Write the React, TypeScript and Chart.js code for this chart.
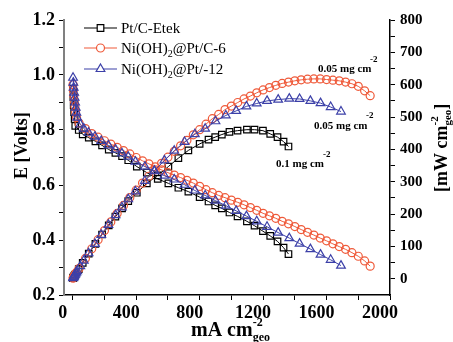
import React, { useEffect, useRef } from 'react';
import { Chart, registerables } from 'chart.js';
Chart.register(...registerables);

const SERIF = '"Liberation Serif", "Times New Roman", serif';
const BLACK = '#000000';
const RED = '#ef5a3a';
const BLUE = '#3c40a8';

// ---- Data (current in mA cm-2, voltage in V, power in mW cm-2) ----
const blackCurrent = [2, 4, 6, 9, 12, 16, 38, 63, 101, 143, 185, 227, 269, 311, 350, 404, 467, 536, 603, 666, 729, 800, 856, 898, 940, 988, 1039, 1098, 1146, 1199, 1245, 1291, 1329, 1360];
const blackVoltage = [0.95, 0.92, 0.89, 0.865, 0.84, 0.815, 0.80, 0.784, 0.772, 0.759, 0.744, 0.729, 0.717, 0.705, 0.690, 0.667, 0.645, 0.622, 0.606, 0.590, 0.576, 0.556, 0.540, 0.526, 0.515, 0.500, 0.486, 0.468, 0.452, 0.432, 0.415, 0.395, 0.372, 0.349];
const blackPower = [2, 4, 5, 8, 10, 13, 30, 49, 78, 108, 137, 165, 192, 218, 240, 266, 295, 320, 347, 373, 397, 417, 430, 438, 446, 454, 458, 461, 461, 458, 448, 438, 424, 409];

const redCurrent = [2, 4, 7, 10, 14, 18, 24, 40, 80, 120, 160, 200, 240, 280, 320, 360, 400, 440, 480, 520, 560, 600, 640, 680, 720, 760, 800, 840, 880, 920, 960, 1000, 1040, 1080, 1120, 1160, 1200, 1240, 1280, 1320, 1360, 1400, 1440, 1480, 1520, 1560, 1600, 1640, 1680, 1720, 1760, 1800, 1840, 1875];
const redVoltage = [0.965, 0.945, 0.925, 0.905, 0.885, 0.865, 0.845, 0.825, 0.805, 0.787, 0.774, 0.761, 0.749, 0.737, 0.725, 0.713, 0.700, 0.688, 0.677, 0.666, 0.655, 0.645, 0.636, 0.627, 0.617, 0.607, 0.595, 0.583, 0.572, 0.562, 0.554, 0.545, 0.537, 0.528, 0.518, 0.508, 0.497, 0.488, 0.479, 0.468, 0.459, 0.449, 0.438, 0.428, 0.418, 0.407, 0.397, 0.386, 0.376, 0.366, 0.354, 0.341, 0.324, 0.305];
const redPower = [2, 4, 7, 9, 12, 16, 20, 32, 63, 93, 121, 149, 176, 202, 227, 251, 274, 296, 317, 337, 357, 376, 394, 411, 428, 445, 461, 478, 495, 508, 523, 534, 545, 556, 565, 575, 584, 591, 598, 604, 608, 612, 615, 617, 618, 618, 616, 614, 612, 608, 603, 595, 581, 566];

const blueCurrent = [2, 4, 6, 9, 12, 15, 19, 23, 28, 48, 70, 100, 140, 180, 225, 270, 310, 350, 395, 455, 515, 578, 640, 705, 770, 835, 900, 965, 1030, 1095, 1160, 1225, 1295, 1365, 1430, 1498, 1562, 1626, 1691];
const blueVoltage = [0.99, 0.972, 0.954, 0.936, 0.918, 0.900, 0.881, 0.863, 0.845, 0.820, 0.805, 0.790, 0.776, 0.760, 0.744, 0.729, 0.715, 0.703, 0.685, 0.667, 0.650, 0.634, 0.620, 0.601, 0.580, 0.562, 0.543, 0.525, 0.506, 0.487, 0.468, 0.448, 0.427, 0.407, 0.387, 0.367, 0.347, 0.328, 0.307];
const bluePower = [2, 4, 6, 8, 11, 13, 17, 20, 24, 39, 56, 79, 108, 136, 167, 197, 221, 246, 270, 303, 334, 366, 396, 423, 447, 464, 487, 505, 519, 533, 542, 550, 554, 557, 556, 550, 543, 531, 517];

const seriesLabels = ['Pt/C-Etek', 'Ni(OH)2@Pt/C-6', 'Ni(OH)2@Pt/-12'];

const xTickValues = [0, 200, 400, 600, 800, 1000, 1200, 1400, 1600, 1800, 2000];
const leftTickValues = [0.2, 0.3, 0.4, 0.5, 0.6, 0.7, 0.8, 0.9, 1.0, 1.1, 1.2];
const rightTickValues = [0, 50, 100, 150, 200, 250, 300, 350, 400, 450, 500, 550, 600, 650, 700, 750, 800];

type Run = { t: string; size: number; weight?: string; dy?: number; noAdvance?: boolean };

function drawRuns(ctx: CanvasRenderingContext2D, x: number, y: number, runs: Run[]) {
  let cx = x;
  for (const r of runs) {
    ctx.font = `${r.weight || 'normal'} ${r.size}px ${SERIF}`;
    ctx.fillText(r.t, cx, y + (r.dy || 0));
    if (!r.noAdvance) cx += ctx.measureText(r.t).width;
  }
  return cx;
}

function drawMarker(ctx: CanvasRenderingContext2D, kind: string, x: number, y: number, color: string) {
  ctx.save();
  ctx.strokeStyle = color;
  ctx.lineWidth = 1.2;
  ctx.beginPath();
  if (kind === 'rect') {
    ctx.rect(x - 3.3, y - 3.3, 6.6, 6.6);
  } else if (kind === 'circle') {
    ctx.arc(x, y, 4, 0, Math.PI * 2);
  } else {
    const r = 5;
    ctx.moveTo(x, y - r);
    ctx.lineTo(x + r * Math.sin((2 * Math.PI) / 3), y - r * Math.cos((2 * Math.PI) / 3));
    ctx.lineTo(x + r * Math.sin((4 * Math.PI) / 3), y - r * Math.cos((4 * Math.PI) / 3));
    ctx.closePath();
  }
  ctx.fillStyle = '#fff';
  ctx.fill();
  ctx.stroke();
  ctx.restore();
}

export default function App() {
  const ref = useRef<HTMLCanvasElement>(null);
  useEffect(() => {
    document.body.style.margin = '0';
    const canvas = ref.current!;
    const pts = (xs: number[], ys: number[]) => xs.map((x, i) => ({ x, y: ys[i] }));

    const overlay = {
      id: 'overlay',
      afterDraw(chart: any) {
        const ctx: CanvasRenderingContext2D = chart.ctx;
        ctx.save();
        ctx.fillStyle = '#000';
        ctx.textBaseline = 'alphabetic';
        ctx.textAlign = 'left';

        // Legend
        const rows = [
          { y: 28, color: BLACK, kind: 'rect' },
          { y: 48, color: RED, kind: 'circle' },
          { y: 69, color: BLUE, kind: 'triangle' },
        ];
        rows.forEach((r, i) => {
          ctx.strokeStyle = r.color;
          ctx.lineWidth = 1.2;
          ctx.beginPath();
          ctx.moveTo(84, r.y);
          ctx.lineTo(117, r.y);
          ctx.stroke();
          drawMarker(ctx, r.kind, 100.5, r.y, r.color);
          ctx.fillStyle = '#000';
          const label = seriesLabels[i];
          if (label.indexOf('2@') >= 0) {
            const [a, b] = label.split('2@');
            drawRuns(ctx, 121, r.y + 5, [
              { t: a, size: 15 },
              { t: '2', size: 10, dy: 4 },
              { t: '@' + b, size: 15 },
            ]);
          } else {
            drawRuns(ctx, 121, r.y + 5, [{ t: label, size: 15 }]);
          }
        });

        // Annotations
        ctx.fillStyle = '#000';
        drawRuns(ctx, 318, 72, [{ t: '0.05 mg cm', size: 11, weight: 'bold' }]);
        drawRuns(ctx, 370, 62, [{ t: '-2', size: 9, weight: 'bold' }]);
        drawRuns(ctx, 314, 129, [{ t: '0.05 mg cm', size: 11, weight: 'bold' }]);
        drawRuns(ctx, 366, 118, [{ t: '-2', size: 9, weight: 'bold' }]);
        drawRuns(ctx, 276, 167, [{ t: '0.1 mg cm', size: 11, weight: 'bold' }]);
        drawRuns(ctx, 323, 157, [{ t: '-2', size: 9, weight: 'bold' }]);

        // Bottom title
        drawRuns(ctx, 191, 336, [
          { t: 'mA cm', size: 20, weight: 'bold' },
          { t: '-2', size: 12, weight: 'bold', dy: -10, noAdvance: true },
          { t: 'geo', size: 12, weight: 'bold', dy: 5 },
        ]);

        // Left title
        ctx.save();
        ctx.translate(27, 179);
        ctx.rotate(-Math.PI / 2);
        drawRuns(ctx, 0, 0, [{ t: 'E [Volts]', size: 18, weight: 'bold' }]);
        ctx.restore();

        // Right title
        ctx.save();
        ctx.translate(447, 192);
        ctx.rotate(-Math.PI / 2);
        drawRuns(ctx, 0, 0, [
          { t: '[mW cm', size: 18, weight: 'bold' },
          { t: '-2', size: 11, weight: 'bold', dy: -9, noAdvance: true },
          { t: 'geo', size: 11, weight: 'bold', dy: 4 },
          { t: ']', size: 18, weight: 'bold' },
        ]);
        ctx.restore();

        ctx.restore();
      },
    };

    const mk = (label: string, xs: number[], ys: number[], axis: string, color: string, style: string, radius: number, order: number) => ({
      label,
      data: pts(xs, ys),
      yAxisID: axis,
      borderColor: color,
      borderWidth: 1,
      pointStyle: style,
      pointRadius: radius,
      pointBorderWidth: 1.2,
      pointBorderColor: color,
      pointBackgroundColor: 'rgba(255,255,255,0)',
      fill: false,
      tension: 0,
      order,
    });

    const tickFont = { family: SERIF, size: 18, weight: 'bold' as const };
    const gridCfg = { drawOnChartArea: false, drawTicks: true, tickLength: 5, color: '#000', lineWidth: 1 };

    const chart = new Chart(canvas, {
      type: 'line',
      data: {
        datasets: [
          mk(seriesLabels[2], blueCurrent, blueVoltage, 'yE', BLUE, 'triangle', 5, 0),
          mk(seriesLabels[2], blueCurrent, bluePower, 'yP', BLUE, 'triangle', 5, 0),
          mk(seriesLabels[1], redCurrent, redVoltage, 'yE', RED, 'circle', 4, 1),
          mk(seriesLabels[1], redCurrent, redPower, 'yP', RED, 'circle', 4, 1),
          mk(seriesLabels[0], blackCurrent, blackVoltage, 'yE', BLACK, 'rect', 4.6, 2),
          mk(seriesLabels[0], blackCurrent, blackPower, 'yP', BLACK, 'rect', 4.6, 2),
        ] as any,
      },
      options: {
        responsive: false,
        animation: false,
        devicePixelRatio: 1,
        events: [],
        layout: { padding: { top: 20, left: 0, right: 0, bottom: 0 } },
        plugins: { legend: { display: false }, tooltip: { enabled: false } },
        scales: {
          x: {
            type: 'linear',
            min: -55,
            max: 2000,
            afterBuildTicks: (s: any) => {
              s.ticks = xTickValues.map((v) => ({ value: v }));
            },
            afterFit: (s: any) => {
              s.height = 47;
            },
            ticks: {
              callback: (v: any) => (Number(v) % 400 === 0 ? String(v) : ''),
              font: tickFont,
              color: '#000',
              padding: 3,
              labelOffset: -10,
              maxRotation: 0,
              autoSkip: false,
            },
            grid: gridCfg,
            border: { color: '#000', width: 1.5 },
          },
          yE: {
            type: 'linear',
            position: 'left',
            min: 0.2,
            max: 1.2,
            afterBuildTicks: (s: any) => {
              s.ticks = leftTickValues.map((v) => ({ value: v }));
            },
            afterFit: (s: any) => {
              s.width = 64;
            },
            ticks: {
              callback: (v: any, i: number) => (i % 2 === 0 ? Number(v).toFixed(1) : ''),
              font: tickFont,
              color: '#000',
              padding: 4,
              autoSkip: false,
            },
            grid: gridCfg,
            border: { color: '#808080', width: 2 },
          },
          yP: {
            type: 'linear',
            position: 'right',
            min: -50,
            max: 800,
            afterBuildTicks: (s: any) => {
              s.ticks = rightTickValues.map((v) => ({ value: v }));
            },
            afterFit: (s: any) => {
              s.width = 63;
            },
            ticks: {
              callback: (v: any) => (Number(v) % 100 === 0 ? String(v) : ''),
              font: { family: SERIF, size: 15, weight: 'bold' as const },
              color: '#000',
              padding: 5,
              autoSkip: false,
            },
            grid: gridCfg,
            border: { color: '#000', width: 1.5 },
          },
        },
      } as any,
      plugins: [overlay],
    });
    return () => chart.destroy();
  }, []);

  return (
    <div style={{ width: 453, height: 342 }}>
      <canvas ref={ref} width={453} height={342} style={{ display: 'block', width: 453, height: 342 }} />
    </div>
  );
}
